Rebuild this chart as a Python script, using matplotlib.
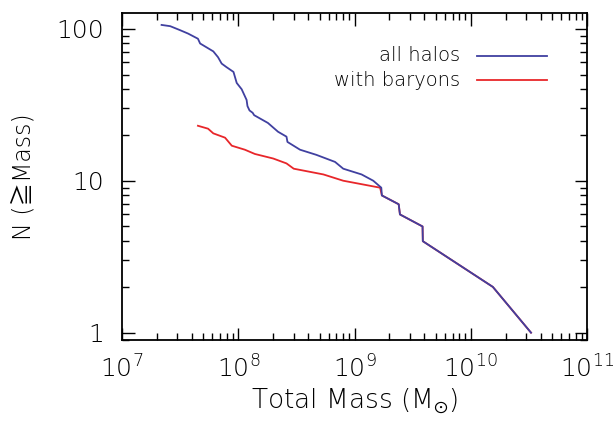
import matplotlib
matplotlib.use("Agg")
import matplotlib.pyplot as plt
from matplotlib.ticker import LogLocator, FixedLocator, FixedFormatter, NullFormatter

plt.rcParams['font.family'] = ['DejaVu Sans', 'Noto Sans CJK SC']
plt.rcParams['font.weight'] = 'light'
plt.rcParams['axes.labelweight'] = 'light'
plt.rcParams['mathtext.default'] = 'regular'

# All halos: cumulative count N(>=M) vs total mass
all_mass = [2.19e7, 2.6e7, 3.15e7, 3.7e7, 4.5e7, 4.7e7, 6.1e7, 6.7e7, 7.2e7, 7.9e7,
            9.1e7, 9.7e7, 1.07e8, 1.18e8, 1.2e8, 1.25e8, 1.33e8, 1.37e8, 1.8e8, 2.2e8,
            2.6e8, 2.65e8, 3.4e8, 4.7e8, 6.8e8, 8.0e8, 1.15e9, 1.45e9, 1.7e9, 1.72e9,
            2.4e9, 2.46e9, 3.85e9, 3.87e9, 1.55e10, 3.3e10]
all_n = [106, 104, 98, 93, 86, 80, 71, 65, 59, 56,
         52, 44, 40, 34, 31, 29, 28, 27, 24, 21,
         19.5, 18, 16, 14.8, 13.3, 12, 11, 10, 9, 8,
         7, 6, 5, 4, 2, 1]

# Halos with baryons
bar_mass = [4.5e7, 5.5e7, 6.1e7, 7.7e7, 8.8e7, 1.14e8, 1.39e8, 2.0e8, 2.6e8, 3.0e8,
            5.4e8, 8.0e8, 1.66e9, 1.72e9, 2.4e9, 2.46e9, 3.85e9, 3.87e9, 1.55e10, 3.3e10]
bar_n = [23, 22, 20.5, 19.2, 17, 16, 15, 14, 13, 12,
         11, 10, 9, 8, 7, 6, 5, 4, 2, 1]

series_labels = ["all halos", "with baryons"]
x_ticks = [1e7, 1e8, 1e9, 1e10, 1e11]
x_tick_labels = ["$10^{7}$", "$10^{8}$", "$10^{9}$", "$10^{10}$", "$10^{11}$"]
y_ticks = [1, 10, 100]
y_tick_labels = ["1", "10", "100"]

blue = "#4040a0"
red = "#e8262a"

fig = plt.figure(figsize=(6.16, 4.23), dpi=100)
ax = fig.add_axes([122/616, 1 - 340/423, (587-122)/616, (340-13)/423])

ax.plot(bar_mass, bar_n, color=red, lw=1.3)
ax.plot(all_mass, all_n, color=blue, lw=1.3)

ax.set_xscale('log')
ax.set_yscale('log')
ax.set_xlim(1e7, 1e11)
ax.set_ylim(0.895, 127)

ax.xaxis.set_major_locator(FixedLocator(x_ticks))
ax.xaxis.set_major_formatter(FixedFormatter(x_tick_labels))
ax.xaxis.set_minor_locator(LogLocator(base=10, subs=range(2, 10), numticks=20))
ax.xaxis.set_minor_formatter(NullFormatter())
ax.yaxis.set_major_locator(FixedLocator(y_ticks))
ax.yaxis.set_major_formatter(FixedFormatter(y_tick_labels))
ax.yaxis.set_minor_locator(LogLocator(base=10, subs=range(2, 10), numticks=20))
ax.yaxis.set_minor_formatter(NullFormatter())

ax.tick_params(which='both', direction='in', top=True, right=True, width=1.0, color='black')
ax.tick_params(which='major', length=9, labelsize=18, labelcolor='black')
ax.tick_params(axis='x', which='major', pad=11)
ax.tick_params(axis='y', which='major', pad=13)
ax.tick_params(which='minor', length=5)
for s in ax.spines.values():
    s.set_linewidth(1.3)

ax.set_xlabel("Total Mass (M$_{\\odot}$)", fontsize=19, labelpad=3, fontweight='light')
ax.set_ylabel("N (\u2267Mass)", fontsize=17, labelpad=15, fontweight='light',
              family=['DejaVu Sans', 'Noto Sans CJK SC'])

# legend drawn manually in axes coordinates
legend_y = [0.87, 0.794]
for lbl, col, yy in zip(series_labels, [blue, red], legend_y):
    ax.text(0.727, yy, lbl, transform=ax.transAxes, ha='right', va='center', fontsize=14,
            fontweight='light')
    ax.plot([0.764, 0.914], [yy, yy], transform=ax.transAxes, color=col, lw=1.3)

fig.savefig("out.png", dpi=100)
